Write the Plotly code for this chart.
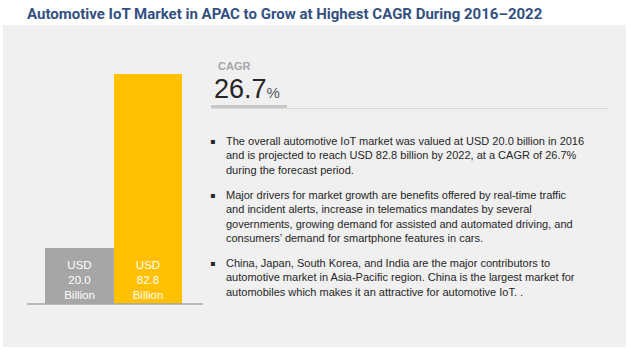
import plotly.graph_objects as go

W, H = 631, 353

# ---- data ----
years = ["2016", "2022"]
market_values = [20.0, 82.8]          # USD billion
bar_colors = ["#A6A6A6", "#FFC000"]
cagr_value = 26.7
title_text = "Automotive IoT Market in APAC to Grow at Highest CAGR During 2016\u20132022"
bullet_1 = [
    "The overall automotive IoT market was valued at USD 20.0 billion in 2016",
    "and is projected to reach USD 82.8 billion by 2022, at a CAGR of 26.7%",
    "during the forecast period.",
]
bullet_2 = [
    "Major drivers for market growth are benefits offered by real-time traffic",
    "and incident alerts, increase in telematics mandates by several",
    "governments, growing demand for assisted and automated driving, and",
    "consumers\u2019 demand for smartphone features in cars.",
]
bullet_3 = [
    "China, Japan, South Korea, and India are the major contributors to",
    "automotive market in Asia-Pacific region. China is the largest market for",
    "automobiles which makes it an attractive for automotive IoT. .",
]


def px(x):
    return x / W


def py(y):
    return 1 - y / H


bar_labels = [f"USD<br>{v:.1f}<br>Billion" for v in market_values]

fig = go.Figure()
fig.add_trace(go.Bar(
    x=years, y=market_values,
    marker=dict(color=bar_colors, line=dict(width=0)),
    text=bar_labels, textposition="inside", insidetextanchor="start",
    textfont=dict(family="Liberation Sans, Arial, sans-serif", size=11.5, color="white"),
    hoverinfo="skip", constraintext="none",
))

base_y = 304
top_y = 40
yrange_max = (base_y - top_y) / 230 * 82.8

fig.update_layout(
    width=W, height=H, margin=dict(l=0, r=0, t=0, b=0),
    paper_bgcolor="white", plot_bgcolor="rgba(0,0,0,0)",
    showlegend=False, bargap=0,
    xaxis=dict(domain=[px(45), px(182)], range=[-0.5, 1.5], visible=False),
    yaxis=dict(domain=[py(base_y), py(top_y)], range=[0, yrange_max], visible=False),
)

shapes = []
# background panel
shapes.append(dict(type="rect", xref="paper", yref="paper", x0=px(3), x1=px(626),
                   y0=py(347), y1=py(25), fillcolor="#F0F0F0", line=dict(width=0), layer="below"))
# baseline
shapes.append(dict(type="line", xref="paper", yref="paper", x0=px(27), x1=px(203),
                   y0=py(304), y1=py(304), line=dict(color="#A6A6A6", width=1.5)))
# CAGR underline
shapes.append(dict(type="rect", xref="paper", yref="paper", x0=px(211), x1=px(287),
                   y0=py(108.5), y1=py(105), fillcolor="#C8C8C8", line=dict(width=0)))
shapes.append(dict(type="line", xref="paper", yref="paper", x0=px(287), x1=px(608),
                   y0=py(108.5), y1=py(108.5), line=dict(color="#D6D6D6", width=1)))
fig.update_layout(shapes=shapes)

ann = []
ann.append(dict(text=f"<b>{title_text}</b>", x=px(25), y=py(14), xref="paper", yref="paper",
                xanchor="left", yanchor="middle", showarrow=False,
                font=dict(family="Roboto, sans-serif", size=15, color="#34507F")))
ann.append(dict(text="<b>CAGR</b>", x=px(216), y=py(66), xref="paper", yref="paper",
                xanchor="left", yanchor="middle", showarrow=False,
                font=dict(family="Liberation Sans, Arial, sans-serif", size=11, color="#A6A6A6")))
ann.append(dict(text=f"{cagr_value}<span style='font-size:15px;color:#595959'>%</span>",
                x=px(212), y=py(89), xref="paper", yref="paper",
                xanchor="left", yanchor="middle", showarrow=False,
                font=dict(family="Liberation Sans, Arial, sans-serif", size=27, color="#262626")))

line_gap = 14.3
for lines, y0 in [(bullet_1, 141), (bullet_2, 195), (bullet_3, 263)]:
    ann.append(dict(text="\u25aa", x=px(212), y=py(y0), xref="paper", yref="paper",
                    xanchor="center", yanchor="middle", showarrow=False,
                    font=dict(family="DejaVu Sans, sans-serif", size=8, color="#262626")))
    for i, ln in enumerate(lines):
        ann.append(dict(text=ln, x=px(224), y=py(y0 + i * line_gap), xref="paper", yref="paper",
                        xanchor="left", yanchor="middle", showarrow=False,
                        font=dict(family="Liberation Sans, Arial, sans-serif", size=11, color="#262626")))
fig.update_layout(annotations=ann)

fig.write_html("out.html")
